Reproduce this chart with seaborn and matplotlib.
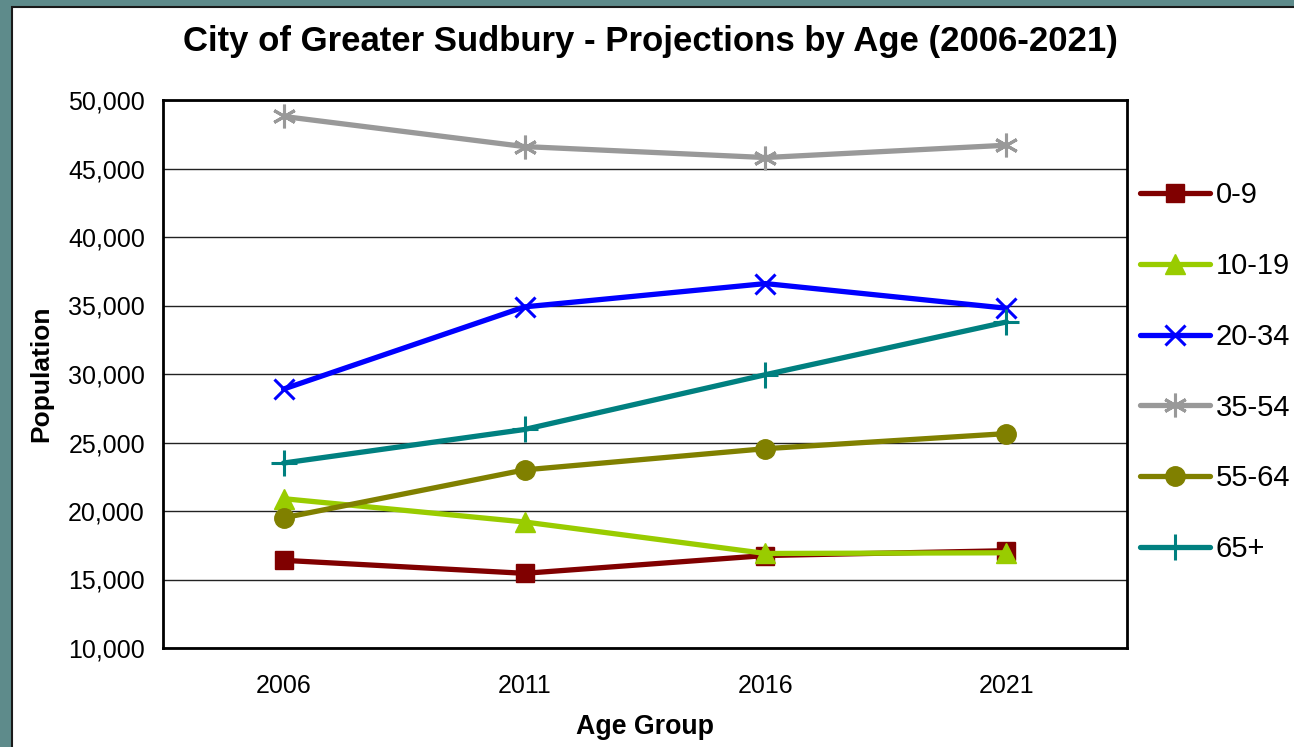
import pandas as pd
import matplotlib
matplotlib.use("Agg")
import matplotlib.pyplot as plt
import seaborn as sns
from matplotlib.patches import Rectangle

# values
years = ["2006", "2011", "2016", "2021"]
age_0_9 = [16400, 15450, 16750, 17100]
age_10_19 = [20900, 19200, 16900, 16950]
age_20_34 = [28900, 34900, 36600, 34800]
age_35_54 = [48800, 46600, 45800, 46700]
age_55_64 = [19500, 23000, 24550, 25650]
age_65_plus = [23500, 25950, 29950, 33800]

groups = ["0-9", "10-19", "20-34", "35-54", "55-64", "65+"]
series = [age_0_9, age_10_19, age_20_34, age_35_54, age_55_64, age_65_plus]

df = pd.DataFrame(
    [(g, y, v) for g, vals in zip(groups, series) for y, v in zip(years, vals)],
    columns=["Age", "Year", "Population"],
)

# colour, marker, size, edge width for each group
styles = {
    "0-9": ("#800000", "s", 13, 1),
    "10-19": ("#99CC00", "^", 15, 1),
    "20-34": ("#0000FF", "x", 15, 2.2),
    "35-54": ("#999999", (6, 2, 0), 17, 2.2),
    "55-64": ("#808000", "o", 14, 1),
    "65+": ("#008080", "+", 19, 2.2),
}

sns.set_style("white")
plt.rcParams["font.family"] = ["Liberation Sans", "DejaVu Sans"]
plt.rcParams["text.color"] = "black"
plt.rcParams["axes.labelcolor"] = "black"
plt.rcParams["xtick.color"] = "black"
plt.rcParams["ytick.color"] = "black"

fig = plt.figure(figsize=(12.94, 7.47), dpi=100)
fig.patch.set_facecolor("#5E8B8B")
panel = Rectangle((12 / 1294, -0.1), 1.2, (747 - 7) / 747 + 0.1,
                  transform=fig.transFigure, facecolor="white",
                  edgecolor="#1a1a1a", linewidth=1.5, zorder=-10)
fig.patches.append(panel)

ax = fig.add_axes([163 / 1294, 1 - 648 / 747, (1127 - 163) / 1294, (648 - 100) / 747])

for g in groups:
    c, m, ms, mew = styles[g]
    sub = df[df["Age"] == g]
    sns.lineplot(data=sub, x="Year", y="Population", ax=ax, color=c, marker=m,
                 markersize=ms, markeredgewidth=mew, markeredgecolor=c,
                 markerfacecolor=c, linewidth=3.8, label=g, sort=False,
                 errorbar=None)

ax.set_xlim(-0.5, 3.5)
ax.set_ylim(10000, 50000)
ax.set_yticks(range(10000, 50001, 5000))
ax.set_yticklabels([f"{v:,}" for v in range(10000, 50001, 5000)])
ax.set_xticks(range(len(years)))
ax.set_xticklabels(years)
ax.set_xticks([i - 0.5 for i in range(len(years) + 1)], minor=True)
ax.tick_params(axis="x", which="major", length=0, pad=19, labelsize=18)
ax.tick_params(axis="x", which="minor", length=5, width=1, color="#555555", direction="out")
ax.tick_params(axis="y", which="major", length=5, width=1, color="#555555",
               direction="out", labelsize=18, pad=8)
ax.grid(axis="y", color="#222222", linewidth=1)
ax.set_axisbelow(True)
for s in ax.spines.values():
    s.set_color("black")
    s.set_linewidth(2)

ax.set_xlabel("Age Group", fontsize=19.3, fontweight="bold", labelpad=11)
ax.set_ylabel("Population", fontsize=19, fontweight="bold", labelpad=11)

fig.text(650 / 1294, 1 - 42 / 747, "City of Greater Sudbury - Projections by Age (2006-2021)",
         ha="center", va="center", fontsize=25, fontweight="bold")

leg = ax.legend(loc="upper left", bbox_to_anchor=(1140 / 1294, 1 - 181 / 747),
                bbox_transform=fig.transFigure, frameon=False, fontsize=21,
                handlelength=2.4, handletextpad=0.2, labelspacing=1.47,
                borderaxespad=0, borderpad=0)

fig.savefig("out.png", dpi=100, facecolor=fig.get_facecolor())
